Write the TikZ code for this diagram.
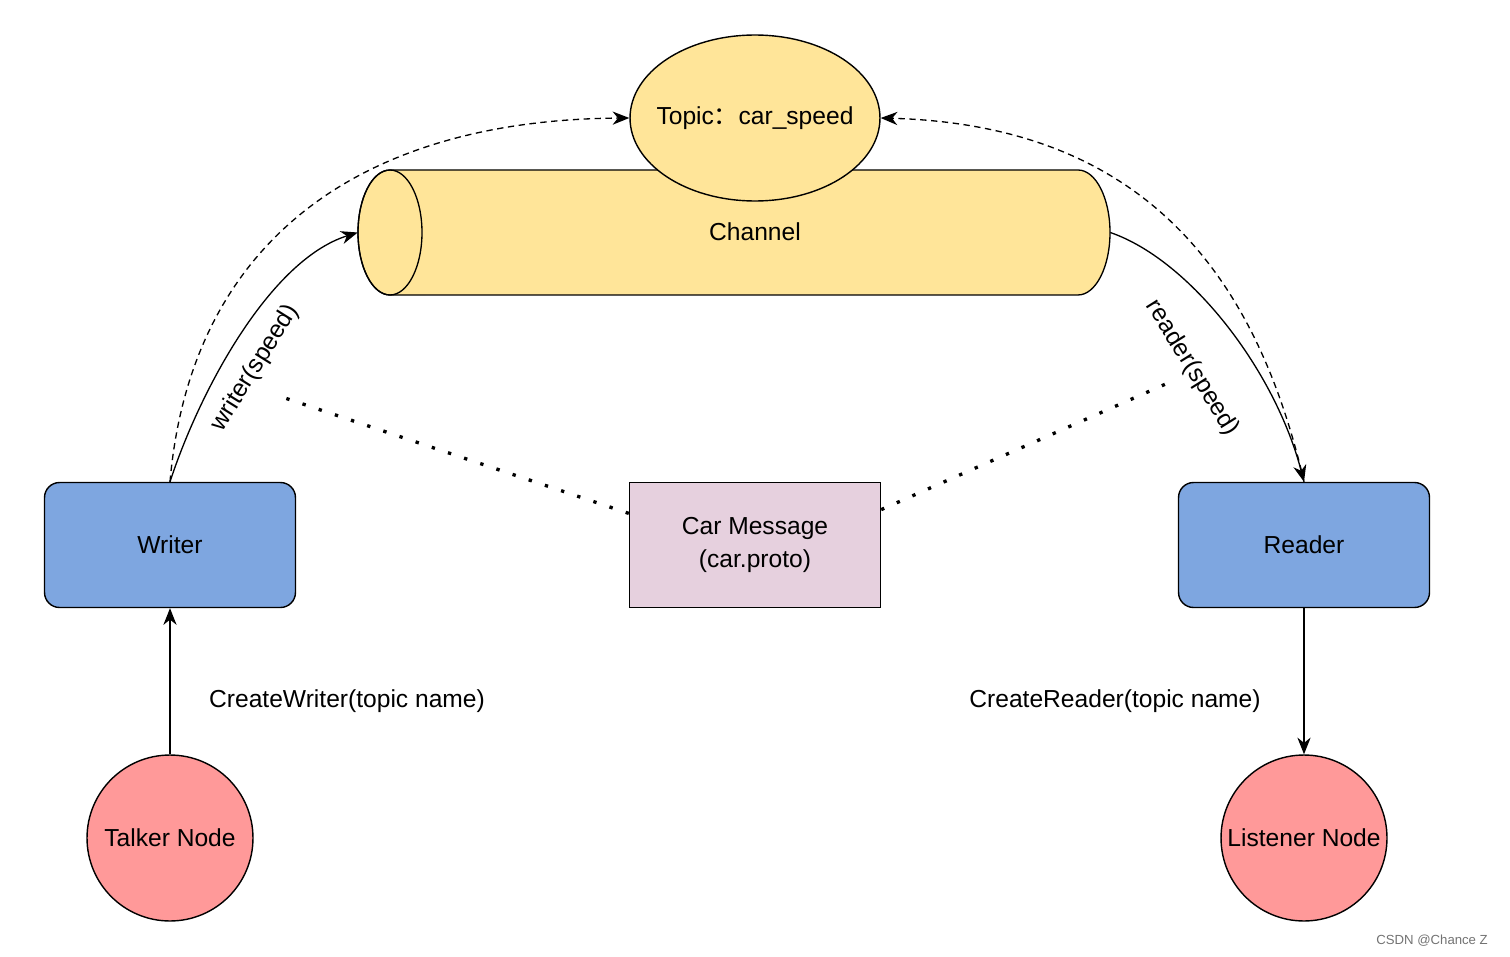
\documentclass[tikz,border=0pt]{standalone}
\usepackage{fontspec}
\setmainfont{Liberation Sans}
\newfontfamily\cjk{Noto Sans CJK SC}
\usepackage{xcolor}
\usepackage{tikz}
\usetikzlibrary{arrows.meta,shapes.geometric,calc}

\definecolor{chanyellow}{RGB}{255,229,153}
\definecolor{nodeblue}{RGB}{126,166,224}
\definecolor{msgpink}{RGB}{230,208,222}
\definecolor{procred}{RGB}{255,153,153}

\begin{document}
\begin{tikzpicture}[x=0.02cm,y=-0.02cm,
every node/.style={font=\fontsize{14}{18.5}\selectfont},
line/.style={line width=0.75pt},
arr/.style={-{Stealth[length=9.5pt,width=7.5pt,inset=3pt]}},
box/.style={draw,line width=0.8pt,minimum width=50.2mm,minimum height=25mm,inner sep=0pt},
proc/.style={circle,draw,line width=0.8pt,fill=procred,minimum size=33.2mm,inner sep=0pt},
link/.style={line width=0.75pt,dash pattern=on 3.6pt off 2.6pt},
dots/.style={line width=1.9pt,dash pattern=on 1.9pt off 7.8pt}
]
\useasboundingbox (0,0) rectangle (1510,956);

% The channel
\filldraw[line,fill=chanyellow] (390,170) -- (1078,170)
  arc[start angle=90,end angle=-90,x radius=6.4mm,y radius=12.5mm] -- (390,295)
  arc[start angle=270,end angle=90,x radius=6.4mm,y radius=12.5mm] -- cycle;
\draw[line] (390,232.5) ellipse [x radius=6.4mm,y radius=12.5mm];
\node[minimum width=150.4mm,minimum height=25mm,inner sep=0pt] (chan) at (734,232.5) {};
\node (chantext) at (755,232) {Channel};
\node[ellipse,draw,line width=0.8pt,fill=chanyellow,minimum width=50mm,minimum height=33.2mm,inner sep=0pt,
  label=center:{Topic{\cjk ：}car\_speed}] (topic) at (755,118) {};

% The nodes
\node[box,rounded corners=3mm,fill=nodeblue] (writer) at (170,545) {Writer};
\node[box,rounded corners=3mm,fill=nodeblue] (reader) at (1304,545) {Reader};
\node[box,fill=msgpink,align=center] (msg) at (755,545) {Car Message\\(car.proto)};
\node[proc] (talker) at (170,838) {Talker Node};
\node[proc] (listener) at (1304,838) {Listener Node};

% The arrows
\draw[line,arr] (talker) -- (writer);
\draw[line,arr] (reader) -- (listener);
\node at (347,701) {CreateWriter(topic name)};
\node at (1115,701) {CreateReader(topic name)};

\draw[line,arr] (writer.north) .. controls (200,390) and (270,260) .. (chan.west);
\draw[line,arr] (chan.east) .. controls (1190,260) and (1275,370) .. (reader.north);
\node[rotate=58] (wlabel) at (255,368) {writer(speed)};
\node[rotate=-58] (rlabel) at (1192,368) {reader(speed)};

\draw[link,arr] (writer.north) .. controls (190,250) and (350,120) .. (topic.west);
\draw[link,arr] (reader.north) .. controls (1255,270) and (1140,125) .. (topic.east);

% The dotted links
\coordinate (wdot) at (276,395);
\coordinate (rdot) at (1168,383);
\draw[dots] ($(msg.north west)!.25!(msg.south west)$) -- (wdot);
\draw[dots] ($(msg.north east)!.22!(msg.south east)$) -- (rdot);

\node[font=\fontsize{7.5}{9}\selectfont,text=black!55,anchor=east] (mark) at (1494,941) {CSDN @Chance Z};
\end{tikzpicture}
\end{document}
